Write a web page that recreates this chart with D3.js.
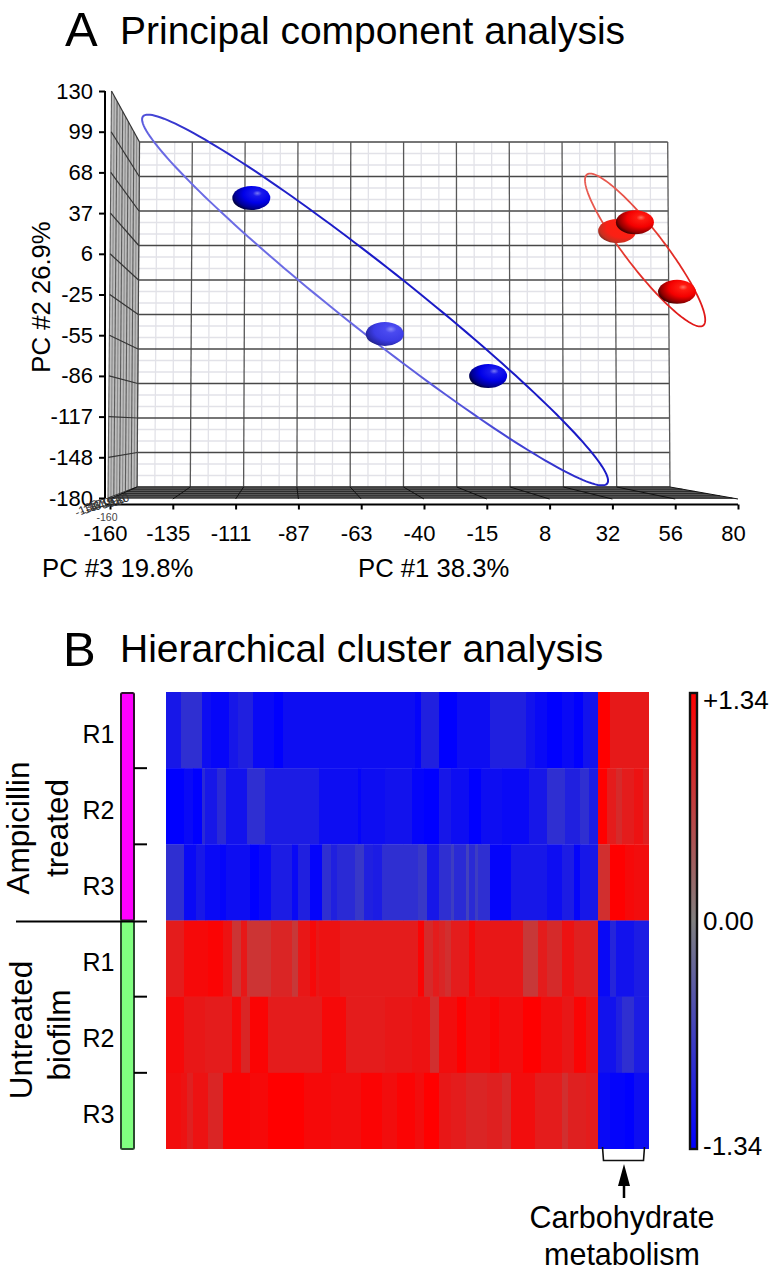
<!DOCTYPE html>
<html><head><meta charset="utf-8">
<script src="https://cdnjs.cloudflare.com/ajax/libs/d3/7.8.5/d3.min.js"></script>
<style>
html,body{margin:0;padding:0;background:#fff}
svg{display:block}
text{font-family:"Liberation Sans",Arial,sans-serif;fill:#000}
.domain{stroke:#000}
</style></head><body>
<svg id="c" width="775" height="1273"></svg>
<script>
// ---- Panel A data (PC scores)
const pc1Ticks = [-160,-135,-111,-87,-63,-40,-15,8,32,56,80];
const pc2Ticks = [130,99,68,37,6,-25,-55,-86,-117,-148,-180];
const pc3Ticks = [80,56,32,8,-15,-40,-63,-87,-111,-135];
const groupBluePC1 = [-106,-55,-15.5];
const groupBluePC2 = [48.5,-55,-87];
const groupRedPC1 = [33.8,40.6,56.7];
const groupRedPC2 = [23.4,30,-23];
const ellipseBlue = {c:[-58.7,-29.2], major:[88.7,-139.8], minor:[7.8,19.7]};
const ellipseRed = {c:[44.5,8.9], major:[22.2,-57.5], minor:[5.9,9.1]};
// ---- Panel B data: each row is run-length pairs [columns, z-score]
const rowNames = ["R1","R2","R3","R1","R2","R3"];
const ampR1 = [[5,-1.1],[7,-.85],[3,-1.2],[6,-1.28],[3,-1.1],[5,-1],[7,-1.25],[3,-1.34],[44,-1.2],[2,-1.3],[6,-1],[6,-1.34],[11,-1.2],[12,-1],[3,-1.15],[4,-1.25],[5,-1.34],[4,-1.25],[3,-1.34],[5,-1.15],[4,1.34],[13,1.08]];
const ampR2 = [[6,-1.34],[3,-1.25],[3,-1.34],[1,-.9],[4,-1.1],[3,-.9],[7,-1.15],[6,-.85],[18,-1.05],[13,-1.2],[1,-1.3],[8,-1.2],[9,-1.15],[4,-1.3],[5,-1.34],[4,-1.1],[6,-1.2],[4,-1.34],[7,-1.2],[9,-1.25],[6,-1.1],[6,-.85],[5,-1],[3,-.85],[3,-1.05],[3,1.34],[3,1.05],[2,.9],[4,1.05],[3,1.15],[2,1]];
const ampR3 = [[6,-.85],[4,-1.25],[3,-1.1],[5,-1.25],[2,-1.3],[8,-1.2],[3,-1.34],[4,-1.25],[7,-1.05],[2,-1.25],[4,-1],[4,-1.3],[3,-.85],[2,-1],[6,-.9],[3,-.75],[3,-1],[3,-1.05],[7,-.85],[5,-.85],[3,-.75],[4,-1.1],[4,-.85],[1,-.7],[4,-.9],[1,-.65],[2,-.9],[1,-.7],[4,-.85],[7,-1.3],[12,-1.1],[5,-1.2],[4,-1.05],[2,-1.3],[6,-1.1],[4,.85],[5,1.34],[3,1.25],[5,1.2]];
const untR1 = [[6,1.05],[8,1.25],[5,1.3],[3,1.15],[3,.8],[2,1.1],[8,.8],[7,.95],[2,.75],[4,1.1],[2,1.25],[1,1.1],[7,1.15],[26,1.05],[2,1.3],[3,.9],[2,1.05],[2,.95],[2,.85],[6,1.05],[2,1.25],[16,1.1],[5,.75],[3,1.05],[5,.9],[4,1.15],[8,1],[4,-1.25],[2,-.95],[6,-1.15],[5,-1.05]];
const untR2 = [[6,1.25],[7,1.1],[9,1.05],[3,1.25],[3,.95],[6,1.3],[18,1.05],[8,1.25],[13,1.05],[9,1.1],[6,1.15],[3,.85],[6,1.2],[3,1.34],[8,1.2],[3,1.3],[8,1.2],[6,1.34],[7,1.2],[4,1.1],[4,1.3],[4,1.15],[6,-1.15],[2,-1],[4,-.85],[5,-1.05]];
const untR3 = [[5,1.2],[2,1.15],[2,1],[5,1.15],[5,.95],[9,1.3],[6,1.25],[12,1.34],[9,1.25],[10,1.2],[7,1.3],[5,1.2],[6,1.3],[3,1.2],[5,1.34],[4,1.1],[5,1.05],[7,.95],[5,1],[3,.9],[8,1.2],[9,1.05],[2,.85],[6,1],[4,1.05],[4,-1.25],[5,-1.3],[3,-1.34],[5,-1.2]];
const colorTicks = [1.34,0,-1.34];

const svg = d3.select("#c");
const defs = svg.append("defs");

// ======== Panel A
const x = d3.scaleLinear().domain([-160,80]).range([110,738]);
const y = d3.scaleLinear().domain([-180,130]).range([498,91]);
const A = svg.append("g");

// back wall
const wallTop = d3.scaleLinear().domain([0,30]).range([139.5,667.7]);
const wallBot = d3.scaleLinear().domain([0,30]).range([137,670]);
const wallY = d3.scaleLinear().domain([0,30]).range([142,487]);
const wallXAt = (i,t)=>wallTop(i)+(wallBot(i)-wallTop(i))*(t-142)/(487-142);
d3.range(31).filter(i=>i%3).forEach(i=>{
  A.append("line").attr("x1",wallTop(i)).attr("y1",142).attr("x2",wallBot(i)).attr("y2",487).attr("stroke","#e2e2e8").attr("stroke-width",1.3);
  const yy = wallY(i);
  A.append("line").attr("x1",wallXAt(0,yy)).attr("y1",yy).attr("x2",wallXAt(30,yy)).attr("y2",yy).attr("stroke","#e2e2e8").attr("stroke-width",1.3);
});
d3.range(0,31,3).forEach(i=>{
  A.append("line").attr("x1",wallTop(i)).attr("y1",142).attr("x2",wallBot(i)).attr("y2",487).attr("stroke","#585858").attr("stroke-width",1.3);
  const yy = wallY(i);
  A.append("line").attr("x1",wallXAt(0,yy)).attr("y1",yy).attr("x2",wallXAt(30,yy)).attr("y2",yy).attr("stroke","#484848").attr("stroke-width",1.3);
});

// left wall
A.append("path").attr("d","M111.5,91L139.5,142L137,487L108,498Z").attr("fill","#bdbdbd");
const wallFrontX = t=>111.5+(108-111.5)*(t-91)/(498-91);
d3.range(11).forEach(i=>{
  const f = i/10;
  const xt = 111.5+(139.5-111.5)*f, yt = 91+(142-91)*f;
  const xb = 108+(137-108)*f, yb = 498+(487-498)*f;
  A.append("line").attr("x1",xt).attr("y1",yt).attr("x2",xb).attr("y2",yb).attr("stroke",i===10?"#444":(i%2?"#8a8a8a":"#5c5c5c")).attr("stroke-width",1.1);
});
pc2Ticks.forEach((t,i)=>{
  const yf = d3.scalePoint().domain(pc2Ticks).range([91,498])(t);
  const yb = wallY(i*3);
  A.append("line").attr("x1",wallFrontX(yf)).attr("y1",yf).attr("x2",wallXAt(0,yb)).attr("y2",yb).attr("stroke","#333").attr("stroke-width",1.2);
});

// floor
A.append("path").attr("d","M137,487L670,487L738,499L108,498.5Z").attr("fill","#5c5c5c");
d3.range(0,13,2.2).forEach(d=>{
  const yy=487+d, f=d/12;
  A.append("line").attr("x1",137-29*f).attr("y1",yy).attr("x2",670+68*f).attr("y2",yy).attr("stroke","#222").attr("stroke-width",.9);
});
const px = d3.scalePoint().domain(pc1Ticks).range([110,738]);
pc1Ticks.forEach((t,i)=>{
  A.append("line").attr("x1",wallBot(i*3)).attr("y1",487).attr("x2",px(t)).attr("y2",499).attr("stroke","#111").attr("stroke-width",1);
});

// axes
const axX = A.append("g").attr("transform","translate(0,504.5)")
  .call(d3.axisBottom(px).tickSize(5).tickPadding(16).tickSizeOuter(0));
axX.select(".domain").attr("stroke-width",2).attr("d","M105,0H738");
axX.selectAll(".tick line").attr("stroke","#000").attr("stroke-width",2);
axX.selectAll("text").attr("font-size",22).attr("dx",-5);

const py = d3.scalePoint().domain(pc2Ticks).range([91,498]);
const axY = A.append("g").attr("transform","translate(105,0)")
  .call(d3.axisLeft(py).tickSize(6).tickPadding(6).tickSizeOuter(0));
axY.select(".domain").attr("stroke-width",2).attr("d","M0,91V498");
axY.selectAll(".tick line").attr("stroke","#000").attr("stroke-width",2);
axY.selectAll("text").attr("font-size",22);

// tiny PC #3 labels overlapping at the corner
const pz = d3.scalePoint().domain(pc3Ticks).range([0,1]);
pc3Ticks.forEach(t=>{
  const f = pz(t);
  A.append("text").attr("transform",`translate(${124-36*f},${503+ 9*f}) rotate(-24)`)
   .attr("font-size",12).attr("text-anchor","middle").style("fill","#333").text(t);
});
A.append("text").attr("x",107).attr("y",521).attr("font-size",10.5).attr("text-anchor","middle").style("fill","#444").text("-160");

// ellipses
function ellipsePath(e){
  const pts = d3.range(0,2*Math.PI,Math.PI/90).map(th=>[
    e.c[0]+e.major[0]*Math.cos(th)+e.minor[0]*Math.sin(th),
    e.c[1]+e.major[1]*Math.cos(th)+e.minor[1]*Math.sin(th)]);
  return d3.line().x(d=>x(d[0])).y(d=>y(d[1])).curve(d3.curveLinearClosed)(pts);
}
function strokeGrad(id,x1,y1,x2,y2,stops){
  const g = defs.append("linearGradient").attr("id",id).attr("gradientUnits","userSpaceOnUse")
    .attr("x1",x1).attr("y1",y1).attr("x2",x2).attr("y2",y2);
  stops.forEach(s=>g.append("stop").attr("offset",s[0]).attr("stop-color",s[1]));
}
strokeGrad("sb",320,360,420,250,[[0,"#7c7cea"],[.32,"#6a6ae4"],[.55,"#3030cc"],[.72,"#1c1cc8"],[1,"#1414c0"]]);
strokeGrad("sr",610,190,700,310,[[0,"#e85a50"],[.4,"#e43a30"],[1,"#e01818"]]);
A.append("path").attr("d",ellipsePath(ellipseBlue)).attr("fill","none").attr("stroke","url(#sb)").attr("stroke-width",2);
A.append("path").attr("d",ellipsePath(ellipseRed)).attr("fill","none").attr("stroke","url(#sr)").attr("stroke-width",1.8);

// spheres
function ballGrad(id,stops){
  const g = defs.append("radialGradient").attr("id",id).attr("cx",.66).attr("cy",.36).attr("r",.74).attr("fx",.66).attr("fy",.3);
  stops.forEach(s=>g.append("stop").attr("offset",s[0]).attr("stop-color",s[1]));
}
ballGrad("bDark",[[0,"#7878f4"],[.16,"#1a1aee"],[.5,"#0000e8"],[.8,"#000090"],[1,"#000020"]]);
ballGrad("bLight",[[0,"#8a8af8"],[.2,"#4a4af0"],[.6,"#3c3ce6"],[.85,"#2a2ab0"],[1,"#20207a"]]);
ballGrad("rDark",[[0,"#ff7060"],[.16,"#ff1a10"],[.5,"#f40000"],[.8,"#900000"],[1,"#200000"]]);
ballGrad("rLight",[[0,"#ff2010"],[.6,"#fa2015"],[.85,"#c83020"],[1,"#70281f"]]);
const blues = groupBluePC1.map((v,i)=>({x:v,y:groupBluePC2[i],f:i===1?"bLight":"bDark"}));
const reds = groupRedPC1.map((v,i)=>({x:v,y:groupRedPC2[i],f:i===0?"rLight":"rDark"}));
A.selectAll(".ball").data(blues.concat(reds)).join("ellipse").attr("class","ball")
  .attr("cx",d=>x(d.x)).attr("cy",d=>y(d.y)).attr("rx",19).attr("ry",12)
  .attr("fill",d=>`url(#${d.f})`);

// labels
svg.append("text").attr("x",65).attr("y",46).attr("font-size",49).text("A");
svg.append("text").attr("x",120).attr("y",44).attr("font-size",39).text("Principal component analysis");
svg.append("text").attr("transform","translate(50,297) rotate(-90)").attr("font-size",25.7).attr("text-anchor","middle").text("PC #2 26.9%");
svg.append("text").attr("x",42).attr("y",577).attr("font-size",25.7).text("PC #3 19.8%");
svg.append("text").attr("x",358).attr("y",577).attr("font-size",25.7).text("PC #1 38.3%");

// ======== Panel B
const color = d3.scaleLinear().domain([-1.34,0,1.34]).range(["#0000ff","#808080","#ff0000"]);
const rows = [ampR1,ampR2,ampR3,untR1,untR2,untR3];
const nCols = 161;
const hx = d3.scaleLinear().domain([0,nCols]).range([166,649]);
const hy = d3.scaleBand().domain(d3.range(6)).range([692,1149]);
const H = svg.append("g");
rows.forEach((row,r)=>{
  let col = 0;
  const cells = row.map(([n,v])=>{const c={start:col,n,v};col+=n;return c;});
  H.selectAll(null).data(cells).join("rect")
    .attr("x",d=>hx(d.start)).attr("width",d=>hx(d.start+d.n)-hx(d.start)+(d.start+d.n<nCols?.3:0))
    .attr("y",hy(r)).attr("height",hy.bandwidth()+(r<5?.3:0))
    .attr("fill",d=>color(d.v));
});

// sample group bars
const B = svg.append("g");
B.append("rect").attr("x",121).attr("y",693).attr("width",13).attr("height",227.5).attr("rx",1.5).attr("fill","#ff00ff").attr("stroke","#301030").attr("stroke-width",2);
B.append("rect").attr("x",121).attr("y",921).attr("width",13).attr("height",228).attr("rx",1.5).attr("fill","#80ff80").attr("stroke","#2c4a30").attr("stroke-width",2);
[1,2,4,5].forEach(i=>B.append("line").attr("x1",134).attr("x2",147).attr("y1",hy(i)).attr("y2",hy(i)).attr("stroke","#000").attr("stroke-width",2));
B.append("line").attr("x1",16).attr("x2",147).attr("y1",hy(3)+1).attr("y2",hy(3)+1).attr("stroke","#000").attr("stroke-width",2);
rowNames.forEach((n,i)=>B.append("text").attr("x",114.5).attr("y",hy(i)+hy.bandwidth()/2+12.5).attr("text-anchor","end").attr("font-size",25).text(n));
[["Ampicillin",29,828],["treated",68,828],["Untreated",32,1030],["biofilm",70,1035]].forEach(([t,tx,ty])=>
  B.append("text").attr("transform",`translate(${tx},${ty}) rotate(-90)`).attr("text-anchor","middle").attr("font-size",31.5).text(t));

// colour bar
const cy = d3.scaleLinear().domain([1.34,-1.34]).range([693,1149]);
const cg = defs.append("linearGradient").attr("id","cb").attr("x1",0).attr("y1",0).attr("x2",0).attr("y2",1);
colorTicks.forEach((t,i)=>cg.append("stop").attr("offset",i/2).attr("stop-color",color(t)));
B.append("rect").attr("x",690).attr("y",cy(1.34)).attr("width",7).attr("height",cy(-1.34)-cy(1.34)).attr("fill","url(#cb)").attr("stroke","#111").attr("stroke-width",2.4);
const cLab = {"1.34":"+1.34","0":"0.00","-1.34":"-1.34"};
const cOff = {"1.34":16,"0":9,"-1.34":6};
colorTicks.forEach(t=>B.append("text").attr("x",703).attr("y",cy(t)+cOff[t]).attr("font-size",26).text(cLab[t]));

// bracket + arrow
B.append("path").attr("d","M602.5,1147L603.5,1160.5H643.5L644.5,1147").attr("fill","none").attr("stroke","#111").attr("stroke-width",1.6);
B.append("line").attr("x1",624).attr("x2",624).attr("y1",1198).attr("y2",1180).attr("stroke","#000").attr("stroke-width",2.5);
B.append("path").attr("d","M624,1164L630,1186H618Z").attr("fill","#000");
B.append("text").attr("x",622).attr("y",1228).attr("text-anchor","middle").attr("font-size",30.5).text("Carbohydrate");
B.append("text").attr("x",622).attr("y",1265).attr("text-anchor","middle").attr("font-size",30.5).text("metabolism");

svg.append("text").attr("x",63).attr("y",666).attr("font-size",49).text("B");
svg.append("text").attr("x",120).attr("y",662).attr("font-size",39).text("Hierarchical cluster analysis");
</script>
</body></html>
